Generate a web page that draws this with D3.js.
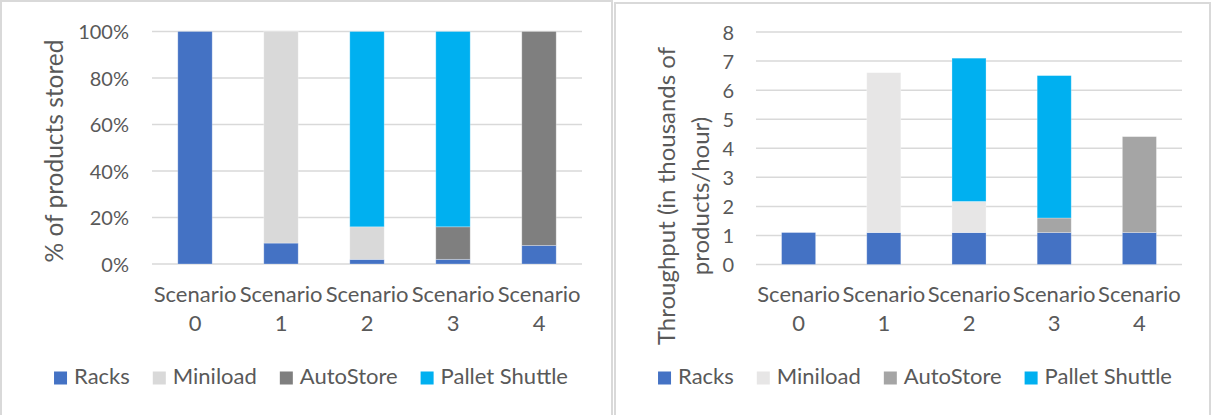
<!DOCTYPE html>
<html>
<head>
<meta charset="utf-8">
<script src="https://cdn.jsdelivr.net/npm/d3@7/dist/d3.min.js"></script>
<style>
  html, body { margin: 0; padding: 0; background: #fff; }
  svg { display: block; }
  text { font-family: Lato, "Open Sans", sans-serif; fill: #595959; }
</style>
</head>
<body>
<svg id="chart" width="1212" height="415"></svg>
<script>
// Scenario categories and series names
const scenarios = ["Scenario 0", "Scenario 1", "Scenario 2", "Scenario 3", "Scenario 4"];
const seriesNames = ["Racks", "Miniload", "AutoStore", "Pallet Shuttle"];

// Share of products stored per technology (fraction of total)
const storedRacks = [1.00, 0.09, 0.02, 0.02, 0.08];
const storedMiniload = [0, 0.91, 0.14, 0, 0];
const storedAutoStore = [0, 0, 0, 0.14, 0.92];
const storedPalletShuttle = [0, 0, 0.84, 0.84, 0];

// Throughput per technology (thousands of products / hour)
const throughputRacks = [1.1, 1.1, 1.1, 1.1, 1.1];
const throughputMiniload = [0, 5.5, 1.07, 0, 0];
const throughputAutoStore = [0, 0, 0, 0.5, 3.3];
const throughputPalletShuttle = [0, 0, 4.93, 4.9, 0];

// Tick values
const percentTicks = [0, 0.2, 0.4, 0.6, 0.8, 1.0];
const throughputTicks = [0, 1, 2, 3, 4, 5, 6, 7, 8];

// Series colours for each panel
const storedColors = ["#4472C4", "#D9D9D9", "#7F7F7F", "#00B0F0"];
const throughputColors = ["#4472C4", "#E7E6E6", "#A5A5A5", "#00B0F0"];

const svg = d3.select("#chart");
const TEXT = "#595959";
const GRID = "#D9D9D9";

function rows(cols) {
  return scenarios.map((s, i) => {
    const r = { scenario: s };
    seriesNames.forEach((k, j) => { r[k] = cols[j][i]; });
    return r;
  });
}

function drawPanel(cfg) {
  const g = svg.append("g");

  // panel frame
  g.append("rect")
    .attr("x", cfg.frame[0]).attr("y", cfg.frame[1])
    .attr("width", cfg.frame[2]).attr("height", cfg.frame[3])
    .attr("fill", "#fff").attr("stroke", GRID).attr("stroke-width", 2);

  const x = d3.scaleBand().domain(scenarios)
    .range([cfg.left, cfg.right]).paddingInner(0.6).paddingOuter(0.3);
  const y = d3.scaleLinear().domain(cfg.domain).range([cfg.bottom, cfg.top]);

  // horizontal gridlines
  g.append("g").selectAll("line").data(cfg.ticks).join("line")
    .attr("x1", cfg.left).attr("x2", cfg.right)
    .attr("y1", d => y(d)).attr("y2", d => y(d))
    .attr("stroke", GRID).attr("stroke-width", 1.5);

  // y axis labels
  const yAxis = d3.axisLeft(y).tickValues(cfg.ticks).tickSize(0).tickPadding(0)
    .tickFormat(cfg.format);
  const ya = g.append("g").attr("transform", `translate(${cfg.tickX},0)`).call(yAxis);
  ya.select(".domain").remove();
  ya.selectAll("text").attr("fill", TEXT).style("font-size", cfg.tickSize + "px")
    .style("font-family", "Lato, sans-serif").attr("dy", "0.36em");

  // stacked bars
  const stacked = d3.stack().keys(seriesNames)(rows(cfg.data));
  g.append("g").selectAll("g").data(stacked).join("g")
    .attr("fill", (d, i) => cfg.colors[i])
    .selectAll("rect").data(d => d.filter(p => p[1] - p[0] > 0)).join("rect")
    .attr("x", d => x(d.data.scenario))
    .attr("width", x.bandwidth())
    .attr("y", d => y(d[1]))
    .attr("height", d => y(d[0]) - y(d[1]))
    .attr("stroke", "#ffffff").attr("stroke-opacity", 0.35).attr("stroke-width", 0.8);

  // category labels on two lines
  const xAxis = d3.axisBottom(x).tickSize(0).tickPadding(0);
  const xa = g.append("g").attr("transform", `translate(0,${cfg.labelY})`).call(xAxis);
  xa.select(".domain").remove();
  xa.selectAll("text").each(function (d) {
    const t = d3.select(this).text(null).attr("dy", null).attr("y", 0)
      .attr("fill", TEXT).style("font-size", "22px").style("font-family", "Lato, sans-serif");
    const parts = d.split(" ");
    t.append("tspan").attr("x", 0).attr("y", 0).text(parts[0]);
    t.append("tspan").attr("x", 0).attr("y", 29).text(parts[1]);
  });

  // axis title
  cfg.titleLines.forEach(l => {
    g.append("text")
      .attr("transform", `translate(${l.x},${cfg.titleY}) rotate(-90)`)
      .attr("text-anchor", "middle").attr("dominant-baseline", "central")
      .style("font-size", cfg.titleSize + "px")
      .text(l.text);
  });

  // legend
  const lg = g.append("g");
  const items = lg.selectAll("g").data(seriesNames).join("g");
  items.append("rect").attr("width", 13).attr("height", 13).attr("y", cfg.legendY - 12.5)
    .attr("fill", (d, i) => cfg.colors[i]);
  items.append("text").attr("x", 20).attr("y", cfg.legendY)
    .style("font-size", "22px").text(d => d);
  let cx = 0;
  items.each(function () {
    const w = this.getBBox().width;
    d3.select(this).attr("transform", `translate(${cx},0)`);
    cx += w + 23;
  });
  const total = cx - 23;
  lg.attr("transform", `translate(${cfg.legendCenter - total / 2},0)`);
}

drawPanel({
  frame: [1, 1, 611, 430],
  left: 152, right: 582, top: 31.5, bottom: 264,
  domain: [0, 1], ticks: percentTicks, format: d3.format(".0%"),
  tickX: 129, tickSize: 20,
  data: [storedRacks, storedMiniload, storedAutoStore, storedPalletShuttle],
  colors: storedColors,
  labelY: 302,
  titleLines: [{ x: 53, text: "% of products stored" }], titleY: 151, titleSize: 24.5,
  legendY: 384, legendCenter: 311
});

drawPanel({
  frame: [615, 3, 595, 430],
  left: 756, right: 1182, top: 32, bottom: 264.5,
  domain: [0, 8], ticks: throughputTicks, format: d3.format("d"),
  tickX: 734, tickSize: 20,
  data: [throughputRacks, throughputMiniload, throughputAutoStore, throughputPalletShuttle],
  colors: throughputColors,
  labelY: 302,
  titleLines: [{ x: 665, text: "Throughput (in thousands of" }, { x: 699, text: "products/hour)" }],
  titleY: 196, titleSize: 24,
  legendY: 384, legendCenter: 915
});
</script>
</body>
</html>
